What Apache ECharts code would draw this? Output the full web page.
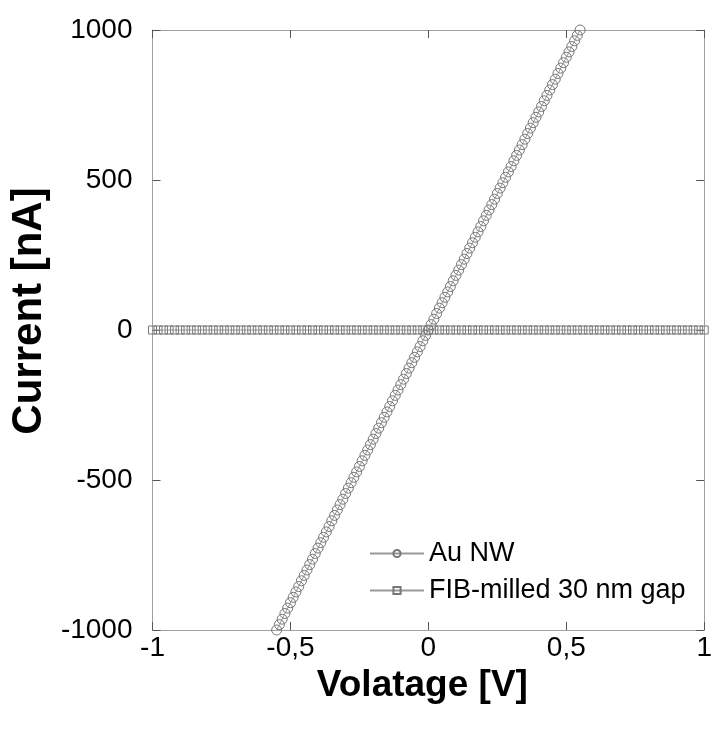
<!DOCTYPE html>
<html>
<head>
<meta charset="utf-8">
<script src="https://cdn.jsdelivr.net/npm/echarts@6/dist/echarts.min.js"></script>
<style>html,body{margin:0;padding:0;background:#fff;overflow:hidden}#c{width:715px;height:733px}</style>
</head>
<body>
<div id="c"></div>
<script>
var auVoltage = [-0.55,-0.54,-0.53,-0.52,-0.51,-0.50,-0.49,-0.48,-0.47,-0.46,-0.45,-0.44,-0.43,-0.42,-0.41,-0.40,-0.39,-0.38,-0.37,-0.36,-0.35,-0.34,-0.33,-0.32,-0.31,-0.30,-0.29,-0.28,-0.27,-0.26,-0.25,-0.24,-0.23,-0.22,-0.21,-0.20,-0.19,-0.18,-0.17,-0.16,-0.15,-0.14,-0.13,-0.12,-0.11,-0.10,-0.09,-0.08,-0.07,-0.06,-0.05,-0.04,-0.03,-0.02,-0.01,0.00,0.01,0.02,0.03,0.04,0.05,0.06,0.07,0.08,0.09,0.10,0.11,0.12,0.13,0.14,0.15,0.16,0.17,0.18,0.19,0.20,0.21,0.22,0.23,0.24,0.25,0.26,0.27,0.28,0.29,0.30,0.31,0.32,0.33,0.34,0.35,0.36,0.37,0.38,0.39,0.40,0.41,0.42,0.43,0.44,0.45,0.46,0.47,0.48,0.49,0.50,0.51,0.52,0.53,0.54,0.55];
var auCurrent = [-1000,-982,-964,-945,-927,-909,-891,-873,-855,-836,-818,-800,-782,-764,-745,-727,-709,-691,-673,-655,-636,-618,-600,-582,-564,-545,-527,-509,-491,-473,-455,-436,-418,-400,-382,-364,-345,-327,-309,-291,-273,-255,-236,-218,-200,-182,-164,-145,-127,-109,-91,-73,-55,-36,-18,0,18,36,55,73,91,109,127,145,164,182,200,218,236,255,273,291,309,327,345,364,382,400,418,436,455,473,491,509,527,545,564,582,600,618,636,655,673,691,709,727,745,764,782,800,818,836,855,873,891,909,927,945,964,982,1000];
var fibVoltage = [-1.00,-0.98,-0.96,-0.94,-0.92,-0.90,-0.88,-0.86,-0.84,-0.82,-0.80,-0.78,-0.76,-0.74,-0.72,-0.70,-0.68,-0.66,-0.64,-0.62,-0.60,-0.58,-0.56,-0.54,-0.52,-0.50,-0.48,-0.46,-0.44,-0.42,-0.40,-0.38,-0.36,-0.34,-0.32,-0.30,-0.28,-0.26,-0.24,-0.22,-0.20,-0.18,-0.16,-0.14,-0.12,-0.10,-0.08,-0.06,-0.04,-0.02,0.00,0.02,0.04,0.06,0.08,0.10,0.12,0.14,0.16,0.18,0.20,0.22,0.24,0.26,0.28,0.30,0.32,0.34,0.36,0.38,0.40,0.42,0.44,0.46,0.48,0.50,0.52,0.54,0.56,0.58,0.60,0.62,0.64,0.66,0.68,0.70,0.72,0.74,0.76,0.78,0.80,0.82,0.84,0.86,0.88,0.90,0.92,0.94,0.96,0.98,1.00];
var fibCurrent = [0,0,0,0,0,0,0,0,0,0,0,0,0,0,0,0,0,0,0,0,0,0,0,0,0,0,0,0,0,0,0,0,0,0,0,0,0,0,0,0,0,0,0,0,0,0,0,0,0,0,0,0,0,0,0,0,0,0,0,0,0,0,0,0,0,0,0,0,0,0,0,0,0,0,0,0,0,0,0,0,0,0,0,0,0,0,0,0,0,0,0,0,0,0,0,0,0,0,0,0,0];
var xTicks = [-1, -0.5, 0, 0.5, 1];
var yTicks = [-1000, -500, 0, 500, 1000];
var seriesNames = ['Au NW', 'FIB-milled 30 nm gap'];

function zip(a, b) { return a.map(function (v, i) { return [v, b[i]]; }); }
function fmt(v) { return String(v).replace('.', ','); }

var FONT = 'Liberation Sans';
var gray = '#999999';
var chart = echarts.init(document.getElementById('c'), null, { renderer: 'canvas' });
var baseX = {
  type: 'value', min: xTicks[0], max: xTicks[xTicks.length - 1], interval: 0.5,
  axisLine: { show: true, onZero: false, lineStyle: { color: '#a0a0a0', width: 1 } },
  axisTick: { show: true, inside: true, length: 8, lineStyle: { color: '#555', width: 1 } },
  splitLine: { show: false }
};
var baseY = {
  type: 'value', min: yTicks[0], max: yTicks[yTicks.length - 1], interval: 500,
  axisLine: { show: true, onZero: false, lineStyle: { color: '#a0a0a0', width: 1 } },
  axisTick: { show: true, inside: true, length: 8, lineStyle: { color: '#555', width: 1 } },
  splitLine: { show: false }
};
chart.setOption({
  animation: false,
  backgroundColor: '#fff',
  textStyle: { fontFamily: FONT },
  grid: { left: 152, right: 5, top: 30, bottom: 103 },
  legend: {
    orient: 'vertical', left: 364, top: 535,
    itemWidth: 54, itemHeight: 9, itemGap: 10,
    textStyle: { fontFamily: FONT, fontSize: 27, color: '#000' },
    data: seriesNames
  },
  xAxis: [
    Object.assign({}, baseX, {
      position: 'bottom',
      name: 'Volatage [V]', nameLocation: 'middle', nameGap: 34,
      nameTextStyle: { fontFamily: FONT, fontSize: 37, fontWeight: 'bold', color: '#000', padding: [0, 12, 0, 0] },
      axisLabel: { show: true, margin: 4, fontFamily: FONT, fontSize: 28, color: '#000', formatter: function (v) { return fmt(v); } }
    }),
    Object.assign({}, baseX, { position: 'top', axisLabel: { show: false } })
  ],
  yAxis: [
    Object.assign({}, baseY, {
      position: 'left',
      name: 'Current [nA]', nameLocation: 'middle', nameGap: 97,
      nameTextStyle: { fontFamily: FONT, fontSize: 42, fontWeight: 'bold', color: '#000', padding: [0, 0, 0, 38] },
      axisLabel: { show: true, margin: 20, fontFamily: FONT, fontSize: 28, color: '#000', formatter: function (v) { return String(v); } }
    }),
    Object.assign({}, baseY, { position: 'right', axisLabel: { show: false } })
  ],
  series: [
    {
      name: seriesNames[0], type: 'line', data: zip(auVoltage, auCurrent),
      symbol: 'circle', symbolSize: 10, showAllSymbol: true,
      lineStyle: { color: gray, width: 1 },
      itemStyle: { color: 'rgba(255,255,255,0)', borderColor: '#777', borderWidth: 1 },
      z: 3
    },
    {
      name: seriesNames[1], type: 'line', data: zip(fibVoltage, fibCurrent),
      symbol: 'rect', symbolSize: 8, showAllSymbol: true,
      lineStyle: { color: gray, width: 1 },
      itemStyle: { color: 'rgba(255,255,255,0)', borderColor: '#777', borderWidth: 1 },
      z: 2
    }
  ]
});
</script>
</body>
</html>
